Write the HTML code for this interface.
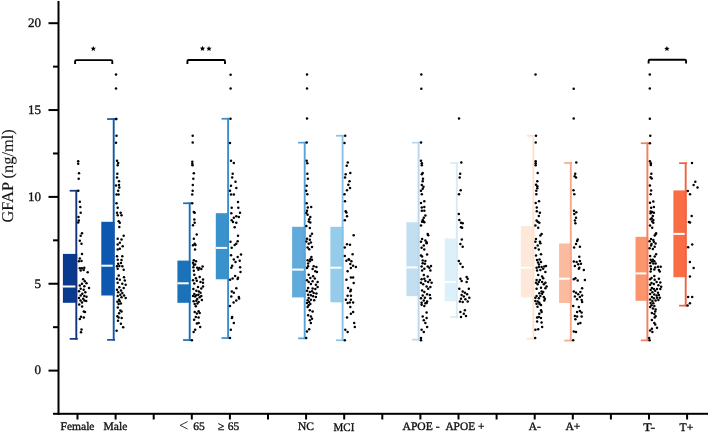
<!DOCTYPE html>
<html><head><meta charset="utf-8"><style>
html,body{margin:0;padding:0;background:#fff;}
svg{display:block;will-change:transform;}
text{text-rendering:geometricPrecision;font-family:"Liberation Serif",serif;fill:#111;stroke:#111;stroke-width:0.35px;}
.tl{font-size:13px;}
.xl{font-size:11.5px;}
.yt{font-size:16.4px;stroke-width:0.12px;}
.st{font-size:12px;}
</style></head><body>
<svg width="708" height="432" viewBox="0 0 708 432">
<rect x="57.5" y="1" width="2" height="414" fill="#000"/>
<rect x="53" y="412.8" width="655" height="2" fill="#000"/>
<rect x="48.5" y="369.60" width="10" height="2" fill="#000"/>
<text x="41" y="374.40" text-anchor="end" class="tl">0</text>
<rect x="48.5" y="282.75" width="10" height="2" fill="#000"/>
<text x="41" y="287.55" text-anchor="end" class="tl">5</text>
<rect x="48.5" y="195.90" width="10" height="2" fill="#000"/>
<text x="41" y="200.70" text-anchor="end" class="tl">10</text>
<rect x="48.5" y="109.05" width="10" height="2" fill="#000"/>
<text x="41" y="113.85" text-anchor="end" class="tl">15</text>
<rect x="48.5" y="22.20" width="10" height="2" fill="#000"/>
<text x="41" y="27.00" text-anchor="end" class="tl">20</text>
<rect x="53" y="326.18" width="5" height="2" fill="#000"/>
<rect x="53" y="239.33" width="5" height="2" fill="#000"/>
<rect x="53" y="152.48" width="5" height="2" fill="#000"/>
<rect x="53" y="65.62" width="5" height="2" fill="#000"/>
<rect x="76.50" y="414" width="2" height="5.5" fill="#000"/>
<rect x="114.60" y="414" width="2" height="5.5" fill="#000"/>
<rect x="152.70" y="414" width="2" height="5.5" fill="#000"/>
<rect x="190.80" y="414" width="2" height="5.5" fill="#000"/>
<rect x="228.90" y="414" width="2" height="5.5" fill="#000"/>
<rect x="267.00" y="414" width="2" height="5.5" fill="#000"/>
<rect x="305.10" y="414" width="2" height="5.5" fill="#000"/>
<rect x="343.20" y="414" width="2" height="5.5" fill="#000"/>
<rect x="381.30" y="414" width="2" height="5.5" fill="#000"/>
<rect x="419.40" y="414" width="2" height="5.5" fill="#000"/>
<rect x="457.50" y="414" width="2" height="5.5" fill="#000"/>
<rect x="495.60" y="414" width="2" height="5.5" fill="#000"/>
<rect x="533.70" y="414" width="2" height="5.5" fill="#000"/>
<rect x="571.80" y="414" width="2" height="5.5" fill="#000"/>
<rect x="609.90" y="414" width="2" height="5.5" fill="#000"/>
<rect x="648.00" y="414" width="2" height="5.5" fill="#000"/>
<rect x="686.10" y="414" width="2" height="5.5" fill="#000"/>
<text transform="translate(13.4,175.9) rotate(-90)" text-anchor="middle" class="yt">GFAP (ng/ml)</text>
<rect x="62.90" y="253.90" width="14.30" height="48.90" fill="#0a3a8e"/>
<rect x="62.90" y="285.50" width="14.30" height="2" fill="#fff"/>
<rect x="75.35" y="189.90" width="1.9" height="149.70" fill="#15337c"/>
<rect x="69.70" y="189.90" width="8.0" height="1.7" fill="#15337c"/>
<rect x="69.70" y="338.00" width="8.0" height="1.7" fill="#15337c"/>
<text x="60.6" y="430" class="xl" textLength="33.9" lengthAdjust="spacingAndGlyphs">Female</text>
<rect x="101.30" y="221.80" width="13.30" height="73.70" fill="#0c57b0"/>
<rect x="101.30" y="264.70" width="13.30" height="2" fill="#fff"/>
<rect x="112.75" y="118.20" width="1.9" height="222.40" fill="#1257a8"/>
<rect x="107.10" y="118.20" width="8.0" height="1.7" fill="#1257a8"/>
<rect x="107.10" y="339.00" width="8.0" height="1.7" fill="#1257a8"/>
<text x="103.6" y="430" class="xl" textLength="23.7" lengthAdjust="spacingAndGlyphs">Male</text>
<rect x="177.40" y="260.60" width="13.20" height="42.20" fill="#1b72b9"/>
<rect x="177.40" y="282.30" width="13.20" height="2" fill="#fff"/>
<rect x="188.75" y="202.40" width="1.9" height="138.40" fill="#1b6fb7"/>
<rect x="183.10" y="202.40" width="8.0" height="1.7" fill="#1b6fb7"/>
<rect x="183.10" y="339.20" width="8.0" height="1.7" fill="#1b6fb7"/>
<path d="M187.6,421.6 L180.2,425.3 L187.6,429" fill="none" stroke="#222" stroke-width="0.9"/>
<text x="193.2" y="430" class="xl">65</text>
<rect x="215.80" y="213.20" width="13.20" height="66.10" fill="#3a92cd"/>
<rect x="215.80" y="246.90" width="13.20" height="2" fill="#fff"/>
<rect x="227.15" y="117.90" width="1.9" height="220.90" fill="#3a8ecb"/>
<rect x="221.50" y="117.90" width="8.0" height="1.7" fill="#3a8ecb"/>
<rect x="221.50" y="337.20" width="8.0" height="1.7" fill="#3a8ecb"/>
<text x="218.1" y="430" class="xl">≥</text>
<text x="227.8" y="430" class="xl">65</text>
<rect x="292.10" y="226.80" width="13.50" height="70.60" fill="#61abda"/>
<rect x="292.10" y="268.60" width="13.50" height="2" fill="#fff"/>
<rect x="303.75" y="141.80" width="1.9" height="197.30" fill="#58a4d7"/>
<rect x="298.10" y="141.80" width="8.0" height="1.7" fill="#58a4d7"/>
<rect x="298.10" y="337.50" width="8.0" height="1.7" fill="#58a4d7"/>
<text x="298" y="429.8" class="xl" textLength="16" lengthAdjust="spacingAndGlyphs">NC</text>
<rect x="330.40" y="226.80" width="13.10" height="75.50" fill="#95cceb"/>
<rect x="330.40" y="266.70" width="13.10" height="2" fill="#fff"/>
<rect x="341.65" y="134.90" width="1.9" height="206.10" fill="#88c2e6"/>
<rect x="336.00" y="134.90" width="8.0" height="1.7" fill="#88c2e6"/>
<rect x="336.00" y="339.40" width="8.0" height="1.7" fill="#88c2e6"/>
<text x="333.5" y="431" class="xl" textLength="20.8" lengthAdjust="spacingAndGlyphs">MCI</text>
<rect x="406.40" y="222.30" width="13.10" height="73.90" fill="#c2def0"/>
<rect x="406.40" y="266.40" width="13.10" height="2" fill="#fff"/>
<rect x="417.65" y="141.80" width="1.9" height="198.60" fill="#bad8ee"/>
<rect x="412.00" y="141.80" width="8.0" height="1.7" fill="#bad8ee"/>
<rect x="412.00" y="338.80" width="8.0" height="1.7" fill="#bad8ee"/>
<text x="402.5" y="430" class="xl" textLength="37.1" lengthAdjust="spacingAndGlyphs">APOE -</text>
<rect x="444.70" y="238.50" width="13.00" height="62.80" fill="#dbf0f9"/>
<rect x="444.70" y="280.90" width="13.00" height="2" fill="#fff"/>
<rect x="455.85" y="162.20" width="1.9" height="155.50" fill="#d6ebf7"/>
<rect x="450.20" y="162.20" width="8.0" height="1.7" fill="#d6ebf7"/>
<rect x="450.20" y="316.10" width="8.0" height="1.7" fill="#d6ebf7"/>
<text x="445.4" y="430" class="xl" textLength="39" lengthAdjust="spacingAndGlyphs">APOE +</text>
<rect x="520.90" y="226.20" width="13.40" height="71.20" fill="#fde8d9"/>
<rect x="520.90" y="266.70" width="13.40" height="2" fill="#fff"/>
<rect x="532.45" y="134.90" width="1.9" height="204.50" fill="#fce2d2"/>
<rect x="526.80" y="134.90" width="8.0" height="1.7" fill="#fce2d2"/>
<rect x="526.80" y="337.80" width="8.0" height="1.7" fill="#fce2d2"/>
<text x="528.8" y="430" class="xl" textLength="12" lengthAdjust="spacingAndGlyphs">A-</text>
<rect x="559.10" y="243.50" width="12.60" height="59.50" fill="#fabb9e"/>
<rect x="559.10" y="277.70" width="12.60" height="2" fill="#fff"/>
<rect x="569.85" y="162.20" width="1.9" height="179.10" fill="#f7a888"/>
<rect x="564.20" y="162.20" width="8.0" height="1.7" fill="#f7a888"/>
<rect x="564.20" y="339.70" width="8.0" height="1.7" fill="#f7a888"/>
<text x="565.5" y="430" class="xl" textLength="14.9" lengthAdjust="spacingAndGlyphs">A+</text>
<rect x="635.50" y="236.80" width="12.80" height="64.00" fill="#fa956e"/>
<rect x="635.50" y="272.40" width="12.80" height="2" fill="#fff"/>
<rect x="646.45" y="142.40" width="1.9" height="198.70" fill="#f47f5c"/>
<rect x="640.80" y="142.40" width="8.0" height="1.7" fill="#f47f5c"/>
<rect x="640.80" y="339.50" width="8.0" height="1.7" fill="#f47f5c"/>
<text x="643.3" y="430.5" class="xl" textLength="11.7" lengthAdjust="spacingAndGlyphs">T-</text>
<rect x="673.40" y="190.40" width="13.20" height="86.80" fill="#fa6d44"/>
<rect x="673.40" y="232.90" width="13.20" height="2" fill="#fff"/>
<rect x="684.75" y="162.30" width="1.9" height="144.10" fill="#ee6440"/>
<rect x="679.10" y="162.30" width="8.0" height="1.7" fill="#ee6440"/>
<rect x="679.10" y="304.80" width="8.0" height="1.7" fill="#ee6440"/>
<text x="679.6" y="431.2" class="xl" textLength="13.7" lengthAdjust="spacingAndGlyphs">T+</text>
<path d="M75.1,64.0 L75.1,61.300000000000004 Q75.1,60.1 76.3,60.1 L111.1,60.1 Q112.3,60.1 112.3,61.300000000000004 L112.3,64.0" fill="none" stroke="#000" stroke-width="1.9"/>
<path d="M187.4,63.9 L187.4,61.2 Q187.4,60 188.6,60 L223.8,60 Q225,60 225,61.2 L225,63.9" fill="none" stroke="#000" stroke-width="1.9"/>
<path d="M648.6,63.6 L648.6,60.900000000000006 Q648.6,59.7 649.8000000000001,59.7 L684.9,59.7 Q686.1,59.7 686.1,60.900000000000006 L686.1,63.6" fill="none" stroke="#000" stroke-width="1.9"/>
<polygon points="93.30,45.90 94.06,47.65 95.96,47.83 94.54,49.10 94.95,50.97 93.30,50.00 91.65,50.97 92.06,49.10 90.64,47.83 92.54,47.65" fill="#000"/>
<polygon points="202.50,45.80 203.26,47.55 205.16,47.73 203.74,49.00 204.15,50.87 202.50,49.90 200.85,50.87 201.26,49.00 199.84,47.73 201.74,47.55" fill="#000"/>
<polygon points="209.00,45.90 209.76,47.65 211.66,47.83 210.24,49.10 210.65,50.97 209.00,50.00 207.35,50.97 207.76,49.10 206.34,47.83 208.24,47.65" fill="#000"/>
<polygon points="666.90,46.00 667.66,47.75 669.56,47.93 668.14,49.20 668.55,51.07 666.90,50.10 665.25,51.07 665.66,49.20 664.24,47.93 666.14,47.75" fill="#000"/>
<circle cx="116.2" cy="119.0" r="1.25"/>
<circle cx="78.3" cy="190.8" r="1.25"/>
<circle cx="78.2" cy="161.3" r="1.25"/>
<circle cx="78.2" cy="163.7" r="1.25"/>
<circle cx="79.0" cy="173.3" r="1.25"/>
<circle cx="78.7" cy="178.7" r="1.25"/>
<circle cx="79.8" cy="201.7" r="1.25"/>
<circle cx="80.3" cy="207.0" r="1.25"/>
<circle cx="80.7" cy="212.8" r="1.25"/>
<circle cx="78.5" cy="217.0" r="1.25"/>
<circle cx="78.8" cy="220.5" r="1.25"/>
<circle cx="78.2" cy="222.5" r="1.25"/>
<circle cx="82.0" cy="233.3" r="1.25"/>
<circle cx="80.7" cy="235.7" r="1.25"/>
<circle cx="79.8" cy="240.7" r="1.25"/>
<circle cx="81.5" cy="243.7" r="1.25"/>
<circle cx="82.0" cy="254.0" r="1.25"/>
<circle cx="79.8" cy="258.5" r="1.25"/>
<circle cx="79.0" cy="261.3" r="1.25"/>
<circle cx="81.5" cy="261.0" r="1.25"/>
<circle cx="79.8" cy="268.3" r="1.25"/>
<circle cx="82.0" cy="268.3" r="1.25"/>
<circle cx="84.3" cy="267.7" r="1.25"/>
<circle cx="80.7" cy="270.5" r="1.25"/>
<circle cx="83.7" cy="270.0" r="1.25"/>
<circle cx="87.7" cy="272.2" r="1.25"/>
<circle cx="83.2" cy="279.3" r="1.25"/>
<circle cx="84.8" cy="281.3" r="1.25"/>
<circle cx="82.0" cy="283.8" r="1.25"/>
<circle cx="86.5" cy="283.3" r="1.25"/>
<circle cx="79.8" cy="285.5" r="1.25"/>
<circle cx="84.3" cy="286.3" r="1.25"/>
<circle cx="89.0" cy="288.0" r="1.25"/>
<circle cx="80.7" cy="288.8" r="1.25"/>
<circle cx="83.7" cy="289.7" r="1.25"/>
<circle cx="79.0" cy="291.3" r="1.25"/>
<circle cx="85.3" cy="292.2" r="1.25"/>
<circle cx="82.3" cy="293.8" r="1.25"/>
<circle cx="80.7" cy="295.5" r="1.25"/>
<circle cx="84.3" cy="296.0" r="1.25"/>
<circle cx="86.5" cy="296.7" r="1.25"/>
<circle cx="79.0" cy="298.0" r="1.25"/>
<circle cx="83.2" cy="298.8" r="1.25"/>
<circle cx="80.5" cy="300.5" r="1.25"/>
<circle cx="84.4" cy="300.6" r="1.25"/>
<circle cx="86.2" cy="301.0" r="1.25"/>
<circle cx="82.0" cy="302.5" r="1.25"/>
<circle cx="79.2" cy="304.6" r="1.25"/>
<circle cx="82.1" cy="306.4" r="1.25"/>
<circle cx="83.8" cy="311.6" r="1.25"/>
<circle cx="85.0" cy="312.0" r="1.25"/>
<circle cx="81.0" cy="316.8" r="1.25"/>
<circle cx="83.8" cy="317.4" r="1.25"/>
<circle cx="79.8" cy="319.1" r="1.25"/>
<circle cx="81.5" cy="329.5" r="1.25"/>
<circle cx="81.0" cy="332.2" r="1.25"/>
<circle cx="116.2" cy="119.0" r="1.25"/>
<circle cx="116.5" cy="135.8" r="1.25"/>
<circle cx="116.0" cy="142.8" r="1.25"/>
<circle cx="117.0" cy="160.8" r="1.25"/>
<circle cx="118.2" cy="163.0" r="1.25"/>
<circle cx="117.7" cy="165.3" r="1.25"/>
<circle cx="117.3" cy="173.7" r="1.25"/>
<circle cx="117.0" cy="177.5" r="1.25"/>
<circle cx="119.0" cy="181.3" r="1.25"/>
<circle cx="116.0" cy="185.5" r="1.25"/>
<circle cx="119.0" cy="185.0" r="1.25"/>
<circle cx="119.3" cy="187.5" r="1.25"/>
<circle cx="118.2" cy="190.8" r="1.25"/>
<circle cx="116.5" cy="194.5" r="1.25"/>
<circle cx="118.5" cy="194.5" r="1.25"/>
<circle cx="116.5" cy="203.3" r="1.25"/>
<circle cx="117.7" cy="207.8" r="1.25"/>
<circle cx="117.0" cy="212.8" r="1.25"/>
<circle cx="120.7" cy="212.8" r="1.25"/>
<circle cx="117.7" cy="215.3" r="1.25"/>
<circle cx="121.5" cy="215.3" r="1.25"/>
<circle cx="118.7" cy="221.2" r="1.25"/>
<circle cx="119.8" cy="222.8" r="1.25"/>
<circle cx="119.3" cy="227.0" r="1.25"/>
<circle cx="123.7" cy="235.7" r="1.25"/>
<circle cx="117.7" cy="238.7" r="1.25"/>
<circle cx="121.5" cy="239.5" r="1.25"/>
<circle cx="119.8" cy="242.8" r="1.25"/>
<circle cx="117.7" cy="244.5" r="1.25"/>
<circle cx="122.7" cy="246.2" r="1.25"/>
<circle cx="119.8" cy="248.7" r="1.25"/>
<circle cx="117.7" cy="249.5" r="1.25"/>
<circle cx="117.0" cy="256.2" r="1.25"/>
<circle cx="122.3" cy="256.2" r="1.25"/>
<circle cx="117.7" cy="259.7" r="1.25"/>
<circle cx="121.5" cy="260.0" r="1.25"/>
<circle cx="118.2" cy="263.8" r="1.25"/>
<circle cx="121.0" cy="263.0" r="1.25"/>
<circle cx="117.0" cy="266.3" r="1.25"/>
<circle cx="119.3" cy="266.0" r="1.25"/>
<circle cx="122.3" cy="266.3" r="1.25"/>
<circle cx="117.7" cy="268.8" r="1.25"/>
<circle cx="123.7" cy="269.7" r="1.25"/>
<circle cx="118.7" cy="275.5" r="1.25"/>
<circle cx="124.0" cy="277.2" r="1.25"/>
<circle cx="117.0" cy="278.8" r="1.25"/>
<circle cx="119.8" cy="279.7" r="1.25"/>
<circle cx="124.8" cy="280.5" r="1.25"/>
<circle cx="117.7" cy="282.7" r="1.25"/>
<circle cx="122.3" cy="283.8" r="1.25"/>
<circle cx="125.7" cy="284.7" r="1.25"/>
<circle cx="119.3" cy="287.2" r="1.25"/>
<circle cx="123.7" cy="288.0" r="1.25"/>
<circle cx="117.0" cy="289.7" r="1.25"/>
<circle cx="121.0" cy="290.5" r="1.25"/>
<circle cx="118.2" cy="292.2" r="1.25"/>
<circle cx="122.3" cy="293.0" r="1.25"/>
<circle cx="120.3" cy="294.7" r="1.25"/>
<circle cx="124.0" cy="295.5" r="1.25"/>
<circle cx="117.7" cy="296.0" r="1.25"/>
<circle cx="121.5" cy="297.2" r="1.25"/>
<circle cx="125.7" cy="298.0" r="1.25"/>
<circle cx="119.0" cy="299.7" r="1.25"/>
<circle cx="117.4" cy="301.7" r="1.25"/>
<circle cx="119.7" cy="301.2" r="1.25"/>
<circle cx="120.9" cy="303.5" r="1.25"/>
<circle cx="118.6" cy="304.0" r="1.25"/>
<circle cx="117.8" cy="307.5" r="1.25"/>
<circle cx="120.3" cy="310.4" r="1.25"/>
<circle cx="121.5" cy="311.6" r="1.25"/>
<circle cx="119.1" cy="313.3" r="1.25"/>
<circle cx="117.4" cy="316.2" r="1.25"/>
<circle cx="118.6" cy="317.4" r="1.25"/>
<circle cx="121.7" cy="317.9" r="1.25"/>
<circle cx="118.0" cy="320.8" r="1.25"/>
<circle cx="120.9" cy="323.7" r="1.25"/>
<circle cx="123.2" cy="327.2" r="1.25"/>
<circle cx="116.6" cy="330.7" r="1.25"/>
<circle cx="116.0" cy="74.5" r="1.25"/>
<circle cx="116.0" cy="88.6" r="1.25"/>
<circle cx="192.7" cy="135.8" r="1.25"/>
<circle cx="192.7" cy="142.5" r="1.25"/>
<circle cx="192.3" cy="161.7" r="1.25"/>
<circle cx="192.3" cy="163.7" r="1.25"/>
<circle cx="192.5" cy="165.3" r="1.25"/>
<circle cx="193.8" cy="173.3" r="1.25"/>
<circle cx="193.3" cy="178.7" r="1.25"/>
<circle cx="192.8" cy="185.0" r="1.25"/>
<circle cx="192.7" cy="190.8" r="1.25"/>
<circle cx="192.2" cy="194.5" r="1.25"/>
<circle cx="192.2" cy="203.3" r="1.25"/>
<circle cx="193.8" cy="212.0" r="1.25"/>
<circle cx="194.7" cy="212.8" r="1.25"/>
<circle cx="194.3" cy="219.5" r="1.25"/>
<circle cx="194.7" cy="222.8" r="1.25"/>
<circle cx="193.0" cy="225.3" r="1.25"/>
<circle cx="196.7" cy="234.5" r="1.25"/>
<circle cx="193.8" cy="238.7" r="1.25"/>
<circle cx="194.7" cy="243.7" r="1.25"/>
<circle cx="193.0" cy="245.3" r="1.25"/>
<circle cx="195.5" cy="245.0" r="1.25"/>
<circle cx="195.0" cy="249.5" r="1.25"/>
<circle cx="193.8" cy="260.3" r="1.25"/>
<circle cx="196.0" cy="261.2" r="1.25"/>
<circle cx="193.0" cy="262.8" r="1.25"/>
<circle cx="193.8" cy="264.8" r="1.25"/>
<circle cx="195.1" cy="264.4" r="1.25"/>
<circle cx="193.4" cy="267.3" r="1.25"/>
<circle cx="197.2" cy="267.8" r="1.25"/>
<circle cx="199.3" cy="268.0" r="1.25"/>
<circle cx="202.6" cy="266.5" r="1.25"/>
<circle cx="201.3" cy="269.0" r="1.25"/>
<circle cx="198.4" cy="269.8" r="1.25"/>
<circle cx="193.8" cy="270.7" r="1.25"/>
<circle cx="194.3" cy="274.8" r="1.25"/>
<circle cx="199.7" cy="276.9" r="1.25"/>
<circle cx="195.9" cy="278.2" r="1.25"/>
<circle cx="203.0" cy="279.4" r="1.25"/>
<circle cx="193.0" cy="280.3" r="1.25"/>
<circle cx="196.8" cy="280.7" r="1.25"/>
<circle cx="200.5" cy="281.9" r="1.25"/>
<circle cx="203.0" cy="282.8" r="1.25"/>
<circle cx="194.3" cy="283.6" r="1.25"/>
<circle cx="198.0" cy="286.9" r="1.25"/>
<circle cx="203.0" cy="286.5" r="1.25"/>
<circle cx="201.3" cy="288.6" r="1.25"/>
<circle cx="193.4" cy="289.0" r="1.25"/>
<circle cx="196.3" cy="290.7" r="1.25"/>
<circle cx="198.8" cy="291.5" r="1.25"/>
<circle cx="200.5" cy="292.8" r="1.25"/>
<circle cx="194.3" cy="294.0" r="1.25"/>
<circle cx="196.3" cy="295.3" r="1.25"/>
<circle cx="198.4" cy="294.8" r="1.25"/>
<circle cx="201.3" cy="296.1" r="1.25"/>
<circle cx="193.0" cy="296.1" r="1.25"/>
<circle cx="195.1" cy="296.5" r="1.25"/>
<circle cx="199.7" cy="297.3" r="1.25"/>
<circle cx="197.2" cy="299.0" r="1.25"/>
<circle cx="193.6" cy="301.3" r="1.25"/>
<circle cx="196.3" cy="300.8" r="1.25"/>
<circle cx="198.6" cy="301.9" r="1.25"/>
<circle cx="201.9" cy="300.0" r="1.25"/>
<circle cx="194.7" cy="304.1" r="1.25"/>
<circle cx="197.4" cy="303.6" r="1.25"/>
<circle cx="195.8" cy="306.3" r="1.25"/>
<circle cx="194.7" cy="311.9" r="1.25"/>
<circle cx="198.6" cy="311.3" r="1.25"/>
<circle cx="196.9" cy="313.6" r="1.25"/>
<circle cx="199.7" cy="313.0" r="1.25"/>
<circle cx="195.8" cy="316.9" r="1.25"/>
<circle cx="198.6" cy="317.4" r="1.25"/>
<circle cx="194.1" cy="319.7" r="1.25"/>
<circle cx="196.9" cy="323.6" r="1.25"/>
<circle cx="198.6" cy="323.0" r="1.25"/>
<circle cx="200.2" cy="327.1" r="1.25"/>
<circle cx="195.2" cy="329.7" r="1.25"/>
<circle cx="193.6" cy="331.9" r="1.25"/>
<circle cx="191.9" cy="340.2" r="1.25"/>
<circle cx="230.5" cy="118.7" r="1.25"/>
<circle cx="230.6" cy="74.7" r="1.25"/>
<circle cx="230.6" cy="88.6" r="1.25"/>
<circle cx="230.0" cy="143.0" r="1.25"/>
<circle cx="231.0" cy="160.8" r="1.25"/>
<circle cx="233.8" cy="163.0" r="1.25"/>
<circle cx="232.7" cy="173.7" r="1.25"/>
<circle cx="232.2" cy="177.5" r="1.25"/>
<circle cx="235.5" cy="181.7" r="1.25"/>
<circle cx="231.0" cy="185.8" r="1.25"/>
<circle cx="236.3" cy="188.0" r="1.25"/>
<circle cx="230.0" cy="190.8" r="1.25"/>
<circle cx="231.0" cy="194.5" r="1.25"/>
<circle cx="233.8" cy="194.5" r="1.25"/>
<circle cx="238.0" cy="202.0" r="1.25"/>
<circle cx="231.7" cy="207.8" r="1.25"/>
<circle cx="238.3" cy="207.8" r="1.25"/>
<circle cx="231.3" cy="213.3" r="1.25"/>
<circle cx="240.0" cy="212.8" r="1.25"/>
<circle cx="236.3" cy="216.2" r="1.25"/>
<circle cx="233.8" cy="217.8" r="1.25"/>
<circle cx="238.8" cy="217.0" r="1.25"/>
<circle cx="231.7" cy="220.3" r="1.25"/>
<circle cx="233.0" cy="222.0" r="1.25"/>
<circle cx="236.3" cy="222.8" r="1.25"/>
<circle cx="234.7" cy="227.3" r="1.25"/>
<circle cx="238.0" cy="235.7" r="1.25"/>
<circle cx="230.5" cy="241.7" r="1.25"/>
<circle cx="237.7" cy="241.2" r="1.25"/>
<circle cx="236.3" cy="243.7" r="1.25"/>
<circle cx="234.7" cy="245.0" r="1.25"/>
<circle cx="231.7" cy="247.8" r="1.25"/>
<circle cx="231.0" cy="255.3" r="1.25"/>
<circle cx="241.0" cy="254.5" r="1.25"/>
<circle cx="237.7" cy="257.0" r="1.25"/>
<circle cx="233.8" cy="259.5" r="1.25"/>
<circle cx="235.5" cy="262.0" r="1.25"/>
<circle cx="239.7" cy="260.7" r="1.25"/>
<circle cx="232.2" cy="265.7" r="1.25"/>
<circle cx="231.3" cy="267.8" r="1.25"/>
<circle cx="240.1" cy="267.3" r="1.25"/>
<circle cx="240.5" cy="271.9" r="1.25"/>
<circle cx="235.1" cy="276.1" r="1.25"/>
<circle cx="238.0" cy="277.8" r="1.25"/>
<circle cx="237.6" cy="279.0" r="1.25"/>
<circle cx="232.6" cy="278.6" r="1.25"/>
<circle cx="230.1" cy="279.8" r="1.25"/>
<circle cx="236.3" cy="288.2" r="1.25"/>
<circle cx="231.8" cy="291.5" r="1.25"/>
<circle cx="233.8" cy="292.8" r="1.25"/>
<circle cx="231.3" cy="296.5" r="1.25"/>
<circle cx="238.8" cy="296.9" r="1.25"/>
<circle cx="233.6" cy="302.4" r="1.25"/>
<circle cx="236.3" cy="300.4" r="1.25"/>
<circle cx="239.1" cy="298.6" r="1.25"/>
<circle cx="230.0" cy="306.0" r="1.25"/>
<circle cx="232.2" cy="316.9" r="1.25"/>
<circle cx="231.9" cy="318.0" r="1.25"/>
<circle cx="233.8" cy="323.0" r="1.25"/>
<circle cx="230.8" cy="329.7" r="1.25"/>
<circle cx="230.0" cy="338.0" r="1.25"/>
<circle cx="307.0" cy="74.6" r="1.25"/>
<circle cx="307.0" cy="88.5" r="1.25"/>
<circle cx="307.0" cy="118.6" r="1.25"/>
<circle cx="306.7" cy="142.5" r="1.25"/>
<circle cx="306.7" cy="160.8" r="1.25"/>
<circle cx="307.3" cy="163.3" r="1.25"/>
<circle cx="307.3" cy="173.8" r="1.25"/>
<circle cx="307.8" cy="178.7" r="1.25"/>
<circle cx="306.7" cy="185.8" r="1.25"/>
<circle cx="306.2" cy="190.8" r="1.25"/>
<circle cx="307.3" cy="194.2" r="1.25"/>
<circle cx="306.7" cy="203.3" r="1.25"/>
<circle cx="307.8" cy="207.5" r="1.25"/>
<circle cx="311.2" cy="207.0" r="1.25"/>
<circle cx="307.0" cy="210.8" r="1.25"/>
<circle cx="306.4" cy="213.1" r="1.25"/>
<circle cx="307.6" cy="214.8" r="1.25"/>
<circle cx="310.3" cy="217.0" r="1.25"/>
<circle cx="309.2" cy="219.2" r="1.25"/>
<circle cx="310.3" cy="222.6" r="1.25"/>
<circle cx="308.7" cy="221.4" r="1.25"/>
<circle cx="306.4" cy="225.9" r="1.25"/>
<circle cx="309.8" cy="228.1" r="1.25"/>
<circle cx="312.0" cy="233.7" r="1.25"/>
<circle cx="310.3" cy="235.9" r="1.25"/>
<circle cx="307.0" cy="238.7" r="1.25"/>
<circle cx="309.8" cy="239.8" r="1.25"/>
<circle cx="306.4" cy="241.4" r="1.25"/>
<circle cx="310.9" cy="242.6" r="1.25"/>
<circle cx="308.7" cy="243.7" r="1.25"/>
<circle cx="312.0" cy="247.0" r="1.25"/>
<circle cx="307.6" cy="247.6" r="1.25"/>
<circle cx="309.2" cy="249.2" r="1.25"/>
<circle cx="311.4" cy="257.0" r="1.25"/>
<circle cx="310.3" cy="259.2" r="1.25"/>
<circle cx="307.6" cy="260.2" r="1.25"/>
<circle cx="309.8" cy="261.3" r="1.25"/>
<circle cx="308.1" cy="263.6" r="1.25"/>
<circle cx="312.0" cy="259.7" r="1.25"/>
<circle cx="308.1" cy="266.3" r="1.25"/>
<circle cx="307.0" cy="268.0" r="1.25"/>
<circle cx="313.7" cy="266.3" r="1.25"/>
<circle cx="316.4" cy="266.9" r="1.25"/>
<circle cx="312.6" cy="269.1" r="1.25"/>
<circle cx="315.3" cy="271.3" r="1.25"/>
<circle cx="317.0" cy="271.9" r="1.25"/>
<circle cx="308.7" cy="274.7" r="1.25"/>
<circle cx="313.1" cy="276.3" r="1.25"/>
<circle cx="310.3" cy="278.0" r="1.25"/>
<circle cx="314.8" cy="278.6" r="1.25"/>
<circle cx="307.0" cy="280.2" r="1.25"/>
<circle cx="308.7" cy="281.9" r="1.25"/>
<circle cx="312.6" cy="281.3" r="1.25"/>
<circle cx="317.6" cy="281.9" r="1.25"/>
<circle cx="310.9" cy="284.1" r="1.25"/>
<circle cx="315.9" cy="284.7" r="1.25"/>
<circle cx="317.6" cy="286.9" r="1.25"/>
<circle cx="308.1" cy="288.0" r="1.25"/>
<circle cx="312.6" cy="288.6" r="1.25"/>
<circle cx="315.3" cy="289.1" r="1.25"/>
<circle cx="307.0" cy="290.8" r="1.25"/>
<circle cx="309.8" cy="291.9" r="1.25"/>
<circle cx="312.0" cy="291.3" r="1.25"/>
<circle cx="313.7" cy="293.0" r="1.25"/>
<circle cx="316.4" cy="293.6" r="1.25"/>
<circle cx="308.1" cy="294.7" r="1.25"/>
<circle cx="310.9" cy="295.2" r="1.25"/>
<circle cx="313.1" cy="296.3" r="1.25"/>
<circle cx="315.9" cy="296.9" r="1.25"/>
<circle cx="308.7" cy="298.0" r="1.25"/>
<circle cx="307.6" cy="300.2" r="1.25"/>
<circle cx="310.9" cy="299.7" r="1.25"/>
<circle cx="314.2" cy="300.2" r="1.25"/>
<circle cx="309.2" cy="301.9" r="1.25"/>
<circle cx="307.0" cy="303.0" r="1.25"/>
<circle cx="310.3" cy="304.1" r="1.25"/>
<circle cx="308.7" cy="305.3" r="1.25"/>
<circle cx="307.6" cy="307.0" r="1.25"/>
<circle cx="309.8" cy="310.3" r="1.25"/>
<circle cx="312.6" cy="311.4" r="1.25"/>
<circle cx="308.1" cy="315.3" r="1.25"/>
<circle cx="310.9" cy="316.4" r="1.25"/>
<circle cx="312.0" cy="318.7" r="1.25"/>
<circle cx="309.8" cy="320.3" r="1.25"/>
<circle cx="310.9" cy="323.1" r="1.25"/>
<circle cx="309.2" cy="329.2" r="1.25"/>
<circle cx="307.0" cy="331.4" r="1.25"/>
<circle cx="306.2" cy="338.1" r="1.25"/>
<circle cx="345.2" cy="135.7" r="1.25"/>
<circle cx="344.5" cy="143.0" r="1.25"/>
<circle cx="347.8" cy="162.5" r="1.25"/>
<circle cx="346.7" cy="165.8" r="1.25"/>
<circle cx="350.3" cy="173.0" r="1.25"/>
<circle cx="345.7" cy="174.2" r="1.25"/>
<circle cx="345.0" cy="177.5" r="1.25"/>
<circle cx="349.5" cy="181.3" r="1.25"/>
<circle cx="348.3" cy="184.7" r="1.25"/>
<circle cx="350.0" cy="188.0" r="1.25"/>
<circle cx="347.0" cy="190.3" r="1.25"/>
<circle cx="344.5" cy="194.2" r="1.25"/>
<circle cx="345.0" cy="201.3" r="1.25"/>
<circle cx="345.7" cy="211.3" r="1.25"/>
<circle cx="346.4" cy="212.6" r="1.25"/>
<circle cx="347.0" cy="216.2" r="1.25"/>
<circle cx="344.8" cy="220.3" r="1.25"/>
<circle cx="353.7" cy="235.3" r="1.25"/>
<circle cx="347.0" cy="244.2" r="1.25"/>
<circle cx="350.0" cy="244.8" r="1.25"/>
<circle cx="344.8" cy="247.6" r="1.25"/>
<circle cx="352.6" cy="254.2" r="1.25"/>
<circle cx="344.8" cy="255.9" r="1.25"/>
<circle cx="348.7" cy="259.2" r="1.25"/>
<circle cx="346.4" cy="260.8" r="1.25"/>
<circle cx="349.2" cy="259.7" r="1.25"/>
<circle cx="351.4" cy="261.3" r="1.25"/>
<circle cx="350.3" cy="264.1" r="1.25"/>
<circle cx="353.1" cy="265.8" r="1.25"/>
<circle cx="355.9" cy="266.9" r="1.25"/>
<circle cx="350.9" cy="268.0" r="1.25"/>
<circle cx="347.6" cy="271.3" r="1.25"/>
<circle cx="350.9" cy="277.4" r="1.25"/>
<circle cx="353.1" cy="277.4" r="1.25"/>
<circle cx="346.4" cy="279.7" r="1.25"/>
<circle cx="353.7" cy="283.0" r="1.25"/>
<circle cx="348.1" cy="288.0" r="1.25"/>
<circle cx="350.9" cy="289.7" r="1.25"/>
<circle cx="350.3" cy="291.3" r="1.25"/>
<circle cx="347.6" cy="295.8" r="1.25"/>
<circle cx="350.9" cy="295.8" r="1.25"/>
<circle cx="345.9" cy="299.7" r="1.25"/>
<circle cx="350.9" cy="299.7" r="1.25"/>
<circle cx="349.8" cy="302.4" r="1.25"/>
<circle cx="347.6" cy="303.0" r="1.25"/>
<circle cx="353.1" cy="302.6" r="1.25"/>
<circle cx="350.3" cy="307.0" r="1.25"/>
<circle cx="350.9" cy="313.7" r="1.25"/>
<circle cx="353.1" cy="312.0" r="1.25"/>
<circle cx="347.0" cy="317.6" r="1.25"/>
<circle cx="354.2" cy="323.1" r="1.25"/>
<circle cx="354.8" cy="327.0" r="1.25"/>
<circle cx="345.3" cy="329.8" r="1.25"/>
<circle cx="347.6" cy="332.0" r="1.25"/>
<circle cx="344.8" cy="340.3" r="1.25"/>
<circle cx="421.3" cy="74.6" r="1.25"/>
<circle cx="421.3" cy="88.7" r="1.25"/>
<circle cx="421.0" cy="142.5" r="1.25"/>
<circle cx="421.0" cy="160.8" r="1.25"/>
<circle cx="421.8" cy="163.3" r="1.25"/>
<circle cx="421.8" cy="165.3" r="1.25"/>
<circle cx="422.7" cy="173.0" r="1.25"/>
<circle cx="421.8" cy="174.2" r="1.25"/>
<circle cx="423.0" cy="178.7" r="1.25"/>
<circle cx="422.7" cy="181.3" r="1.25"/>
<circle cx="421.8" cy="185.0" r="1.25"/>
<circle cx="423.5" cy="186.7" r="1.25"/>
<circle cx="422.7" cy="188.7" r="1.25"/>
<circle cx="421.0" cy="190.8" r="1.25"/>
<circle cx="421.8" cy="194.2" r="1.25"/>
<circle cx="421.0" cy="203.0" r="1.25"/>
<circle cx="424.3" cy="201.3" r="1.25"/>
<circle cx="421.8" cy="207.5" r="1.25"/>
<circle cx="424.3" cy="207.0" r="1.25"/>
<circle cx="421.8" cy="210.8" r="1.25"/>
<circle cx="424.3" cy="210.8" r="1.25"/>
<circle cx="425.4" cy="215.6" r="1.25"/>
<circle cx="423.8" cy="217.8" r="1.25"/>
<circle cx="422.7" cy="220.0" r="1.25"/>
<circle cx="423.2" cy="221.1" r="1.25"/>
<circle cx="424.3" cy="222.2" r="1.25"/>
<circle cx="422.1" cy="221.7" r="1.25"/>
<circle cx="421.0" cy="225.6" r="1.25"/>
<circle cx="427.7" cy="233.9" r="1.25"/>
<circle cx="428.2" cy="235.3" r="1.25"/>
<circle cx="422.1" cy="238.9" r="1.25"/>
<circle cx="425.4" cy="240.6" r="1.25"/>
<circle cx="421.0" cy="241.7" r="1.25"/>
<circle cx="426.6" cy="242.2" r="1.25"/>
<circle cx="426.6" cy="243.3" r="1.25"/>
<circle cx="423.8" cy="245.6" r="1.25"/>
<circle cx="421.6" cy="247.8" r="1.25"/>
<circle cx="424.3" cy="249.4" r="1.25"/>
<circle cx="427.1" cy="254.4" r="1.25"/>
<circle cx="421.0" cy="255.6" r="1.25"/>
<circle cx="422.1" cy="256.6" r="1.25"/>
<circle cx="422.7" cy="260.4" r="1.25"/>
<circle cx="425.4" cy="261.0" r="1.25"/>
<circle cx="422.7" cy="263.2" r="1.25"/>
<circle cx="424.9" cy="263.8" r="1.25"/>
<circle cx="421.6" cy="266.6" r="1.25"/>
<circle cx="427.7" cy="266.6" r="1.25"/>
<circle cx="431.0" cy="266.0" r="1.25"/>
<circle cx="429.3" cy="267.7" r="1.25"/>
<circle cx="424.3" cy="268.8" r="1.25"/>
<circle cx="430.4" cy="270.4" r="1.25"/>
<circle cx="422.1" cy="270.4" r="1.25"/>
<circle cx="423.8" cy="274.9" r="1.25"/>
<circle cx="427.7" cy="276.6" r="1.25"/>
<circle cx="421.6" cy="279.3" r="1.25"/>
<circle cx="424.3" cy="278.8" r="1.25"/>
<circle cx="429.9" cy="279.9" r="1.25"/>
<circle cx="425.4" cy="281.0" r="1.25"/>
<circle cx="421.0" cy="282.7" r="1.25"/>
<circle cx="428.2" cy="282.1" r="1.25"/>
<circle cx="431.6" cy="282.7" r="1.25"/>
<circle cx="423.2" cy="284.3" r="1.25"/>
<circle cx="426.6" cy="286.6" r="1.25"/>
<circle cx="430.4" cy="287.1" r="1.25"/>
<circle cx="428.2" cy="288.8" r="1.25"/>
<circle cx="422.1" cy="290.4" r="1.25"/>
<circle cx="424.3" cy="292.1" r="1.25"/>
<circle cx="427.1" cy="294.3" r="1.25"/>
<circle cx="429.9" cy="294.9" r="1.25"/>
<circle cx="422.7" cy="295.4" r="1.25"/>
<circle cx="424.9" cy="297.7" r="1.25"/>
<circle cx="421.0" cy="298.2" r="1.25"/>
<circle cx="430.4" cy="298.2" r="1.25"/>
<circle cx="423.8" cy="300.4" r="1.25"/>
<circle cx="427.1" cy="301.6" r="1.25"/>
<circle cx="421.6" cy="302.7" r="1.25"/>
<circle cx="425.4" cy="303.2" r="1.25"/>
<circle cx="421.6" cy="304.8" r="1.25"/>
<circle cx="424.3" cy="305.9" r="1.25"/>
<circle cx="426.6" cy="303.1" r="1.25"/>
<circle cx="426.6" cy="312.6" r="1.25"/>
<circle cx="422.7" cy="316.4" r="1.25"/>
<circle cx="426.6" cy="318.1" r="1.25"/>
<circle cx="423.8" cy="320.3" r="1.25"/>
<circle cx="425.4" cy="323.1" r="1.25"/>
<circle cx="427.1" cy="327.0" r="1.25"/>
<circle cx="421.6" cy="329.8" r="1.25"/>
<circle cx="423.8" cy="332.0" r="1.25"/>
<circle cx="421.0" cy="338.1" r="1.25"/>
<circle cx="421.0" cy="340.3" r="1.25"/>
<circle cx="459.0" cy="118.6" r="1.25"/>
<circle cx="461.3" cy="162.5" r="1.25"/>
<circle cx="460.2" cy="173.7" r="1.25"/>
<circle cx="459.7" cy="177.5" r="1.25"/>
<circle cx="460.7" cy="190.3" r="1.25"/>
<circle cx="459.0" cy="194.2" r="1.25"/>
<circle cx="458.8" cy="213.9" r="1.25"/>
<circle cx="459.3" cy="220.0" r="1.25"/>
<circle cx="461.0" cy="222.8" r="1.25"/>
<circle cx="462.7" cy="223.3" r="1.25"/>
<circle cx="461.0" cy="227.2" r="1.25"/>
<circle cx="462.1" cy="227.8" r="1.25"/>
<circle cx="461.8" cy="239.4" r="1.25"/>
<circle cx="460.4" cy="243.9" r="1.25"/>
<circle cx="462.7" cy="246.7" r="1.25"/>
<circle cx="458.8" cy="261.0" r="1.25"/>
<circle cx="460.4" cy="263.8" r="1.25"/>
<circle cx="462.7" cy="267.1" r="1.25"/>
<circle cx="460.4" cy="278.8" r="1.25"/>
<circle cx="466.6" cy="277.1" r="1.25"/>
<circle cx="467.7" cy="278.8" r="1.25"/>
<circle cx="461.6" cy="281.0" r="1.25"/>
<circle cx="466.6" cy="282.1" r="1.25"/>
<circle cx="459.3" cy="288.8" r="1.25"/>
<circle cx="468.8" cy="288.8" r="1.25"/>
<circle cx="462.7" cy="291.6" r="1.25"/>
<circle cx="464.9" cy="292.7" r="1.25"/>
<circle cx="461.6" cy="294.9" r="1.25"/>
<circle cx="467.1" cy="294.3" r="1.25"/>
<circle cx="463.8" cy="296.6" r="1.25"/>
<circle cx="469.3" cy="297.7" r="1.25"/>
<circle cx="461.0" cy="298.8" r="1.25"/>
<circle cx="465.4" cy="299.3" r="1.25"/>
<circle cx="459.9" cy="301.6" r="1.25"/>
<circle cx="462.7" cy="302.1" r="1.25"/>
<circle cx="467.7" cy="301.6" r="1.25"/>
<circle cx="464.9" cy="310.3" r="1.25"/>
<circle cx="460.4" cy="312.0" r="1.25"/>
<circle cx="463.8" cy="313.7" r="1.25"/>
<circle cx="466.0" cy="315.9" r="1.25"/>
<circle cx="461.0" cy="317.0" r="1.25"/>
<circle cx="535.5" cy="74.6" r="1.25"/>
<circle cx="536.0" cy="135.7" r="1.25"/>
<circle cx="535.7" cy="142.5" r="1.25"/>
<circle cx="535.7" cy="161.3" r="1.25"/>
<circle cx="535.7" cy="163.3" r="1.25"/>
<circle cx="535.7" cy="165.3" r="1.25"/>
<circle cx="537.7" cy="173.0" r="1.25"/>
<circle cx="537.3" cy="181.3" r="1.25"/>
<circle cx="536.0" cy="184.7" r="1.25"/>
<circle cx="537.3" cy="186.3" r="1.25"/>
<circle cx="537.3" cy="188.3" r="1.25"/>
<circle cx="536.3" cy="190.8" r="1.25"/>
<circle cx="536.3" cy="194.2" r="1.25"/>
<circle cx="535.7" cy="203.0" r="1.25"/>
<circle cx="539.0" cy="201.3" r="1.25"/>
<circle cx="536.8" cy="207.5" r="1.25"/>
<circle cx="536.8" cy="211.3" r="1.25"/>
<circle cx="539.9" cy="212.8" r="1.25"/>
<circle cx="538.8" cy="216.1" r="1.25"/>
<circle cx="536.6" cy="220.6" r="1.25"/>
<circle cx="537.7" cy="221.7" r="1.25"/>
<circle cx="539.3" cy="222.8" r="1.25"/>
<circle cx="535.4" cy="225.6" r="1.25"/>
<circle cx="538.2" cy="227.8" r="1.25"/>
<circle cx="541.6" cy="233.9" r="1.25"/>
<circle cx="540.4" cy="235.6" r="1.25"/>
<circle cx="536.0" cy="238.9" r="1.25"/>
<circle cx="535.4" cy="241.7" r="1.25"/>
<circle cx="539.9" cy="241.7" r="1.25"/>
<circle cx="540.4" cy="243.3" r="1.25"/>
<circle cx="537.7" cy="245.6" r="1.25"/>
<circle cx="535.4" cy="248.0" r="1.25"/>
<circle cx="538.8" cy="249.4" r="1.25"/>
<circle cx="536.0" cy="255.6" r="1.25"/>
<circle cx="541.0" cy="254.2" r="1.25"/>
<circle cx="537.0" cy="260.0" r="1.25"/>
<circle cx="539.5" cy="259.5" r="1.25"/>
<circle cx="538.0" cy="262.5" r="1.25"/>
<circle cx="541.0" cy="262.0" r="1.25"/>
<circle cx="539.0" cy="264.5" r="1.25"/>
<circle cx="536.6" cy="267.7" r="1.25"/>
<circle cx="538.8" cy="267.1" r="1.25"/>
<circle cx="541.6" cy="267.1" r="1.25"/>
<circle cx="544.3" cy="266.6" r="1.25"/>
<circle cx="546.0" cy="266.0" r="1.25"/>
<circle cx="537.1" cy="270.4" r="1.25"/>
<circle cx="540.4" cy="269.9" r="1.25"/>
<circle cx="543.2" cy="268.8" r="1.25"/>
<circle cx="545.4" cy="272.1" r="1.25"/>
<circle cx="538.2" cy="274.9" r="1.25"/>
<circle cx="542.1" cy="276.6" r="1.25"/>
<circle cx="543.2" cy="278.2" r="1.25"/>
<circle cx="536.6" cy="279.9" r="1.25"/>
<circle cx="539.9" cy="279.9" r="1.25"/>
<circle cx="536.0" cy="282.7" r="1.25"/>
<circle cx="538.8" cy="282.1" r="1.25"/>
<circle cx="542.1" cy="282.1" r="1.25"/>
<circle cx="545.4" cy="282.7" r="1.25"/>
<circle cx="537.7" cy="284.3" r="1.25"/>
<circle cx="543.8" cy="284.3" r="1.25"/>
<circle cx="546.6" cy="286.6" r="1.25"/>
<circle cx="541.0" cy="287.7" r="1.25"/>
<circle cx="536.6" cy="288.8" r="1.25"/>
<circle cx="545.4" cy="288.2" r="1.25"/>
<circle cx="541.6" cy="291.6" r="1.25"/>
<circle cx="543.2" cy="292.1" r="1.25"/>
<circle cx="539.3" cy="293.2" r="1.25"/>
<circle cx="542.1" cy="293.8" r="1.25"/>
<circle cx="536.6" cy="296.0" r="1.25"/>
<circle cx="540.4" cy="296.0" r="1.25"/>
<circle cx="543.8" cy="297.1" r="1.25"/>
<circle cx="535.4" cy="297.7" r="1.25"/>
<circle cx="538.8" cy="298.2" r="1.25"/>
<circle cx="544.9" cy="298.8" r="1.25"/>
<circle cx="535.4" cy="301.0" r="1.25"/>
<circle cx="537.7" cy="301.6" r="1.25"/>
<circle cx="539.3" cy="302.7" r="1.25"/>
<circle cx="544.3" cy="300.4" r="1.25"/>
<circle cx="536.5" cy="303.8" r="1.25"/>
<circle cx="539.5" cy="304.0" r="1.25"/>
<circle cx="541.0" cy="305.0" r="1.25"/>
<circle cx="537.5" cy="306.8" r="1.25"/>
<circle cx="541.0" cy="310.3" r="1.25"/>
<circle cx="541.6" cy="312.0" r="1.25"/>
<circle cx="539.3" cy="313.7" r="1.25"/>
<circle cx="537.1" cy="317.6" r="1.25"/>
<circle cx="538.8" cy="317.0" r="1.25"/>
<circle cx="541.0" cy="318.1" r="1.25"/>
<circle cx="537.1" cy="321.4" r="1.25"/>
<circle cx="541.6" cy="322.6" r="1.25"/>
<circle cx="542.1" cy="327.0" r="1.25"/>
<circle cx="535.4" cy="329.8" r="1.25"/>
<circle cx="538.2" cy="329.2" r="1.25"/>
<circle cx="535.2" cy="338.1" r="1.25"/>
<circle cx="573.7" cy="88.7" r="1.25"/>
<circle cx="573.7" cy="118.6" r="1.25"/>
<circle cx="576.3" cy="162.5" r="1.25"/>
<circle cx="575.2" cy="173.7" r="1.25"/>
<circle cx="576.0" cy="177.5" r="1.25"/>
<circle cx="574.7" cy="176.3" r="1.25"/>
<circle cx="573.5" cy="190.3" r="1.25"/>
<circle cx="574.3" cy="194.2" r="1.25"/>
<circle cx="574.0" cy="210.8" r="1.25"/>
<circle cx="576.3" cy="212.2" r="1.25"/>
<circle cx="574.3" cy="213.9" r="1.25"/>
<circle cx="576.0" cy="217.8" r="1.25"/>
<circle cx="574.9" cy="220.6" r="1.25"/>
<circle cx="575.4" cy="223.3" r="1.25"/>
<circle cx="577.7" cy="239.4" r="1.25"/>
<circle cx="577.1" cy="240.9" r="1.25"/>
<circle cx="576.0" cy="243.9" r="1.25"/>
<circle cx="579.9" cy="246.7" r="1.25"/>
<circle cx="574.1" cy="247.6" r="1.25"/>
<circle cx="579.3" cy="256.7" r="1.25"/>
<circle cx="573.8" cy="261.6" r="1.25"/>
<circle cx="576.6" cy="262.1" r="1.25"/>
<circle cx="579.9" cy="261.0" r="1.25"/>
<circle cx="578.2" cy="264.3" r="1.25"/>
<circle cx="581.0" cy="263.8" r="1.25"/>
<circle cx="574.9" cy="266.0" r="1.25"/>
<circle cx="579.3" cy="267.7" r="1.25"/>
<circle cx="578.8" cy="268.8" r="1.25"/>
<circle cx="583.8" cy="269.9" r="1.25"/>
<circle cx="573.8" cy="279.3" r="1.25"/>
<circle cx="575.4" cy="278.2" r="1.25"/>
<circle cx="577.7" cy="280.4" r="1.25"/>
<circle cx="584.9" cy="279.9" r="1.25"/>
<circle cx="582.1" cy="288.2" r="1.25"/>
<circle cx="573.8" cy="291.6" r="1.25"/>
<circle cx="576.0" cy="292.7" r="1.25"/>
<circle cx="580.4" cy="292.1" r="1.25"/>
<circle cx="578.2" cy="294.3" r="1.25"/>
<circle cx="582.1" cy="295.4" r="1.25"/>
<circle cx="574.9" cy="296.6" r="1.25"/>
<circle cx="579.9" cy="297.1" r="1.25"/>
<circle cx="577.1" cy="299.3" r="1.25"/>
<circle cx="581.6" cy="299.9" r="1.25"/>
<circle cx="582.1" cy="302.1" r="1.25"/>
<circle cx="573.2" cy="305.9" r="1.25"/>
<circle cx="578.8" cy="307.0" r="1.25"/>
<circle cx="577.1" cy="312.0" r="1.25"/>
<circle cx="579.9" cy="310.9" r="1.25"/>
<circle cx="581.6" cy="312.6" r="1.25"/>
<circle cx="574.9" cy="315.9" r="1.25"/>
<circle cx="577.1" cy="316.4" r="1.25"/>
<circle cx="581.6" cy="316.4" r="1.25"/>
<circle cx="575.4" cy="319.2" r="1.25"/>
<circle cx="578.2" cy="323.7" r="1.25"/>
<circle cx="580.4" cy="322.9" r="1.25"/>
<circle cx="573.8" cy="331.4" r="1.25"/>
<circle cx="576.0" cy="332.0" r="1.25"/>
<circle cx="573.2" cy="340.3" r="1.25"/>
<circle cx="649.8" cy="74.4" r="1.25"/>
<circle cx="649.8" cy="88.6" r="1.25"/>
<circle cx="649.8" cy="118.7" r="1.25"/>
<circle cx="650.3" cy="135.8" r="1.25"/>
<circle cx="649.9" cy="143.2" r="1.25"/>
<circle cx="649.9" cy="161.3" r="1.25"/>
<circle cx="650.8" cy="163.3" r="1.25"/>
<circle cx="650.8" cy="165.0" r="1.25"/>
<circle cx="651.3" cy="173.8" r="1.25"/>
<circle cx="650.6" cy="177.2" r="1.25"/>
<circle cx="651.7" cy="178.6" r="1.25"/>
<circle cx="649.9" cy="185.6" r="1.25"/>
<circle cx="651.1" cy="190.4" r="1.25"/>
<circle cx="650.6" cy="194.3" r="1.25"/>
<circle cx="650.0" cy="202.7" r="1.25"/>
<circle cx="653.3" cy="201.6" r="1.25"/>
<circle cx="651.1" cy="207.7" r="1.25"/>
<circle cx="653.9" cy="207.1" r="1.25"/>
<circle cx="650.6" cy="211.6" r="1.25"/>
<circle cx="652.2" cy="212.1" r="1.25"/>
<circle cx="653.9" cy="212.7" r="1.25"/>
<circle cx="650.6" cy="213.2" r="1.25"/>
<circle cx="652.8" cy="216.0" r="1.25"/>
<circle cx="651.7" cy="218.2" r="1.25"/>
<circle cx="653.3" cy="219.9" r="1.25"/>
<circle cx="650.6" cy="219.3" r="1.25"/>
<circle cx="652.2" cy="221.6" r="1.25"/>
<circle cx="653.3" cy="222.7" r="1.25"/>
<circle cx="650.0" cy="225.4" r="1.25"/>
<circle cx="652.2" cy="227.7" r="1.25"/>
<circle cx="656.1" cy="233.2" r="1.25"/>
<circle cx="655.6" cy="234.3" r="1.25"/>
<circle cx="654.7" cy="235.5" r="1.25"/>
<circle cx="651.0" cy="238.9" r="1.25"/>
<circle cx="653.3" cy="239.9" r="1.25"/>
<circle cx="649.6" cy="241.3" r="1.25"/>
<circle cx="653.8" cy="241.7" r="1.25"/>
<circle cx="655.6" cy="243.6" r="1.25"/>
<circle cx="651.5" cy="244.0" r="1.25"/>
<circle cx="651.0" cy="245.4" r="1.25"/>
<circle cx="654.7" cy="246.8" r="1.25"/>
<circle cx="649.6" cy="248.2" r="1.25"/>
<circle cx="652.9" cy="249.1" r="1.25"/>
<circle cx="656.1" cy="254.2" r="1.25"/>
<circle cx="654.7" cy="256.5" r="1.25"/>
<circle cx="650.1" cy="255.9" r="1.25"/>
<circle cx="650.6" cy="259.8" r="1.25"/>
<circle cx="652.9" cy="259.8" r="1.25"/>
<circle cx="654.3" cy="261.2" r="1.25"/>
<circle cx="651.9" cy="261.6" r="1.25"/>
<circle cx="650.1" cy="263.0" r="1.25"/>
<circle cx="653.3" cy="263.5" r="1.25"/>
<circle cx="655.6" cy="263.5" r="1.25"/>
<circle cx="650.6" cy="266.3" r="1.25"/>
<circle cx="655.2" cy="267.6" r="1.25"/>
<circle cx="658.0" cy="266.7" r="1.25"/>
<circle cx="660.7" cy="266.7" r="1.25"/>
<circle cx="651.0" cy="269.0" r="1.25"/>
<circle cx="654.3" cy="269.5" r="1.25"/>
<circle cx="658.9" cy="270.0" r="1.25"/>
<circle cx="650.6" cy="271.4" r="1.25"/>
<circle cx="659.8" cy="271.4" r="1.25"/>
<circle cx="654.3" cy="276.0" r="1.25"/>
<circle cx="651.5" cy="277.9" r="1.25"/>
<circle cx="658.9" cy="278.8" r="1.25"/>
<circle cx="654.7" cy="279.7" r="1.25"/>
<circle cx="650.1" cy="279.3" r="1.25"/>
<circle cx="656.6" cy="282.0" r="1.25"/>
<circle cx="660.3" cy="282.5" r="1.25"/>
<circle cx="651.5" cy="283.0" r="1.25"/>
<circle cx="653.8" cy="283.9" r="1.25"/>
<circle cx="650.1" cy="284.8" r="1.25"/>
<circle cx="658.4" cy="285.3" r="1.25"/>
<circle cx="661.2" cy="286.7" r="1.25"/>
<circle cx="651.9" cy="288.0" r="1.25"/>
<circle cx="653.8" cy="289.0" r="1.25"/>
<circle cx="657.0" cy="289.0" r="1.25"/>
<circle cx="660.3" cy="289.0" r="1.25"/>
<circle cx="650.6" cy="289.9" r="1.25"/>
<circle cx="655.2" cy="290.8" r="1.25"/>
<circle cx="652.4" cy="292.2" r="1.25"/>
<circle cx="658.0" cy="292.7" r="1.25"/>
<circle cx="650.1" cy="294.1" r="1.25"/>
<circle cx="654.3" cy="294.5" r="1.25"/>
<circle cx="656.6" cy="295.5" r="1.25"/>
<circle cx="658.9" cy="295.0" r="1.25"/>
<circle cx="651.9" cy="296.9" r="1.25"/>
<circle cx="653.8" cy="298.2" r="1.25"/>
<circle cx="657.0" cy="297.8" r="1.25"/>
<circle cx="659.8" cy="297.8" r="1.25"/>
<circle cx="650.1" cy="299.6" r="1.25"/>
<circle cx="652.4" cy="301.0" r="1.25"/>
<circle cx="655.6" cy="300.6" r="1.25"/>
<circle cx="658.4" cy="300.1" r="1.25"/>
<circle cx="650.6" cy="302.9" r="1.25"/>
<circle cx="653.3" cy="303.3" r="1.25"/>
<circle cx="651.5" cy="305.2" r="1.25"/>
<circle cx="654.3" cy="306.1" r="1.25"/>
<circle cx="650.1" cy="307.0" r="1.25"/>
<circle cx="652.9" cy="308.4" r="1.25"/>
<circle cx="655.6" cy="309.4" r="1.25"/>
<circle cx="655.2" cy="311.6" r="1.25"/>
<circle cx="651.9" cy="312.9" r="1.25"/>
<circle cx="654.3" cy="313.9" r="1.25"/>
<circle cx="655.6" cy="316.2" r="1.25"/>
<circle cx="654.7" cy="317.6" r="1.25"/>
<circle cx="651.9" cy="319.9" r="1.25"/>
<circle cx="654.3" cy="323.1" r="1.25"/>
<circle cx="655.2" cy="324.5" r="1.25"/>
<circle cx="657.0" cy="327.8" r="1.25"/>
<circle cx="651.9" cy="328.7" r="1.25"/>
<circle cx="650.1" cy="330.5" r="1.25"/>
<circle cx="652.4" cy="331.9" r="1.25"/>
<circle cx="649.2" cy="338.0" r="1.25"/>
<circle cx="649.6" cy="340.3" r="1.25"/>
<circle cx="692.0" cy="163.1" r="1.25"/>
<circle cx="695.3" cy="181.7" r="1.25"/>
<circle cx="693.6" cy="184.9" r="1.25"/>
<circle cx="697.5" cy="187.6" r="1.25"/>
<circle cx="687.8" cy="191.0" r="1.25"/>
<circle cx="690.0" cy="194.3" r="1.25"/>
<circle cx="691.7" cy="216.0" r="1.25"/>
<circle cx="688.9" cy="222.1" r="1.25"/>
<circle cx="690.0" cy="222.4" r="1.25"/>
<circle cx="692.2" cy="244.5" r="1.25"/>
<circle cx="688.1" cy="247.3" r="1.25"/>
<circle cx="689.9" cy="262.1" r="1.25"/>
<circle cx="693.6" cy="268.1" r="1.25"/>
<circle cx="689.9" cy="276.5" r="1.25"/>
<circle cx="688.1" cy="296.9" r="1.25"/>
<circle cx="692.2" cy="296.9" r="1.25"/>
<circle cx="689.9" cy="303.3" r="1.25"/>
<circle cx="687.6" cy="305.6" r="1.25"/>
</svg></body></html>
